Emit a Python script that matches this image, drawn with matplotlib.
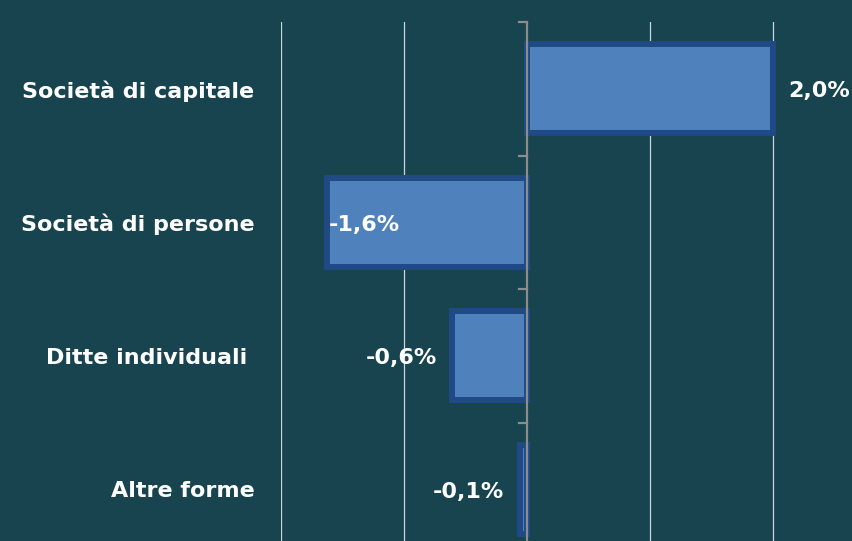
import matplotlib.pyplot as plt

categories = ["Società di capitale", "Società di persone", "Ditte individuali ", "Altre forme"]
values = [2.0, -1.63, -0.61, -0.06]
labels = ["2,0%", "-1,6%", "-0,6%", "-0,1%"]

bg = "#17444f"
fig = plt.figure(figsize=(8.53, 5.41), dpi=100, facecolor=bg)
# plot area runs past the bottom of the picture, like the cropped original
ax = fig.add_axes([281 / 853, -15 / 541, 1 - 281 / 853, 534 / 541])
ax.set_facecolor(bg)

y = list(range(len(categories)))
ax.barh(y, values, height=0.67, color="#4f81bd", edgecolor="#1f4a85", linewidth=4.3, zorder=3)

ax.set_xlim(-2, 2.65)
ax.set_ylim(len(categories) - 0.5, -0.5)

for g in [-2, -1, 1, 2]:
    ax.axvline(g, color="#c9d6de", lw=0.9, zorder=1)
ax.axvline(0, color="#8c8c8c", lw=1.6, zorder=4)
for b in [-0.5, 0.5, 1.5, 2.5]:
    ax.plot([-0.065, 0], [b, b], color="#8c8c8c", lw=1.6, zorder=4, clip_on=False)

for s in ax.spines.values():
    s.set_visible(False)
ax.set_xticks([])
ax.set_yticks(y)
ax.set_yticklabels(categories)
ax.tick_params(axis="y", length=0, pad=19)
for t in ax.get_yticklabels():
    t.set_color("white")
    t.set_fontsize(16)
    t.set_fontweight("bold")
    t.set_family("DejaVu Sans")

font = dict(color="white", fontsize=16, fontweight="bold", family="DejaVu Sans", va="center", zorder=5)
ax.text(values[0] + 0.12, 0.02, labels[0], ha="left", **font)
ax.text(values[1] + 0.02, 1.02, labels[1], ha="left", **font)
ax.text(values[2] - 0.12, 2.02, labels[2], ha="right", **font)
ax.text(values[3] - 0.13, 3.02, labels[3], ha="right", **font)

fig.savefig("out.png", dpi=100, facecolor=bg)
